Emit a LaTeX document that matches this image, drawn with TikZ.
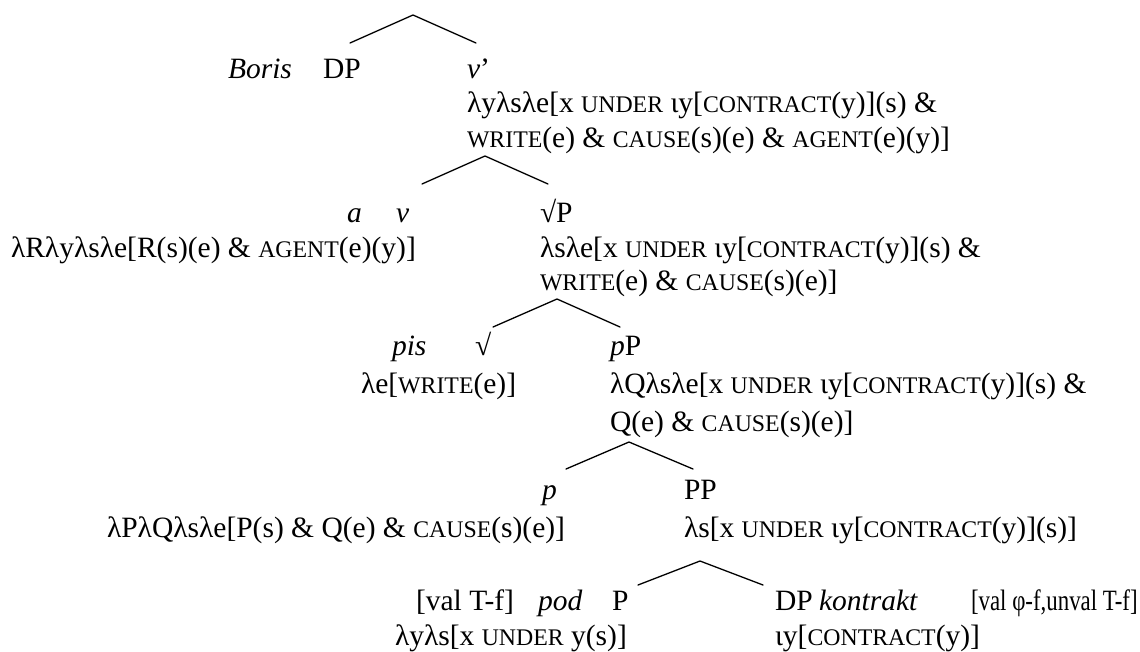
\documentclass[tikz,border=0pt]{standalone}
\usepackage{fontspec}
\setmainfont{Liberation Serif}
% reduced capitals for predicate names
\newcommand\smc[1]{{\fontsize{23.8}{35}\selectfont #1}}
\begin{document}
\begin{tikzpicture}[x=1pt,y=-1pt,
  lbl/.style={anchor=base west,inner sep=0,outer sep=0,font=\fontsize{29.5}{35}\selectfont},
  branch/.style={line width=1.3pt,line cap=round}]
\useasboundingbox (0,0) rectangle (1140,651);

% ---- vP: subject and v'
\node[lbl] (boris) at (228,78) {\textit{Boris}};
\node[lbl] (dp1) at (323,78) {DP};
\node[lbl] (vbar) at (467,78) {\textit{v}’};
\node[lbl] (vbarA) at (467,112) {λyλsλe[x \smc{UNDER} ιy[\smc{CONTRACT}(y)](s) \&};
\node[lbl] (vbarB) at (467,147) {\smc{WRITE}(e) \& \smc{CAUSE}(s)(e) \& \smc{AGENT}(e)(y)]};

% ---- v' : v and root phrase
\node[lbl] (aw) at (347,222) {\textit{a}};
\node[lbl] (v) at (396,222) {\textit{v}};
\node[lbl] (vsem) at (11,257) {λRλyλsλe[R(s)(e) \& \smc{AGENT}(e)(y)]};
\node[lbl] (rootP) at (540,222) {√P};
\node[lbl] (rootPA) at (540,257) {λsλe[x \smc{UNDER} ιy[\smc{CONTRACT}(y)](s) \&};
\node[lbl] (rootPB) at (540,290) {\smc{WRITE}(e) \& \smc{CAUSE}(s)(e)]};

% ---- root phrase: root and pP
\node[lbl] (pis) at (392,355) {\textit{pis}};
\node[lbl] (root) at (475,355) {√};
\node[lbl] (rootsem) at (361,393) {λe[\smc{WRITE}(e)]};
\node[lbl] (pP) at (610,355) {\textit{p}P};
\node[lbl] (pPA) at (610,393) {λQλsλe[x \smc{UNDER} ιy[\smc{CONTRACT}(y)](s) \&};
\node[lbl] (pPB) at (610,431) {Q(e) \& \smc{CAUSE}(s)(e)]};

% ---- pP: p and PP
\node[lbl] (p) at (542,499) {\textit{p}};
\node[lbl] (psem) at (107,537) {λPλQλsλe[P(s) \& Q(e) \& \smc{CAUSE}(s)(e)]};
\node[lbl] (PP) at (684,499) {PP};
\node[lbl] (PPsem) at (684,537) {λs[x \smc{UNDER} ιy[\smc{CONTRACT}(y)](s)]};

% ---- PP: P and object DP
\node[lbl] (valT) at (416,610) {[val T-f]};
\node[lbl] (pod) at (538,610) {\textit{pod}};
\node[lbl] (P) at (612,610) {P};
\node[lbl] (Psem) at (395,645) {λyλs[x \smc{UNDER} y(s)]};
\node[lbl] (dp2) at (775,610) {DP};
\node[lbl] (kontrakt) at (819,610) {\textit{kontrakt}};
\node[lbl] (valphi) at (971,610) {\scalebox{0.775}[1]{[val φ-f,unval T-f]}};
\node[lbl] (dpsem) at (775,645) {ιy[\smc{CONTRACT}(y)]};

% ---- branch points
\coordinate (t1) at (413,15);  \coordinate (l1) at (350,43);  \coordinate (r1) at (476,43);
\coordinate (t2) at (485,156); \coordinate (l2) at (422,184); \coordinate (r2) at (548,184);
\coordinate (t3) at (557,299); \coordinate (l3) at (493,327); \coordinate (r3) at (620,327);
\coordinate (t4) at (629,442); \coordinate (l4) at (566,469); \coordinate (r4) at (693,469);
\coordinate (t5) at (700,561); \coordinate (l5) at (638,585); \coordinate (r5) at (763,585);

\foreach \i in {1,...,5} \draw[branch] (l\i) -- (t\i) -- (r\i);
\end{tikzpicture}
\end{document}
